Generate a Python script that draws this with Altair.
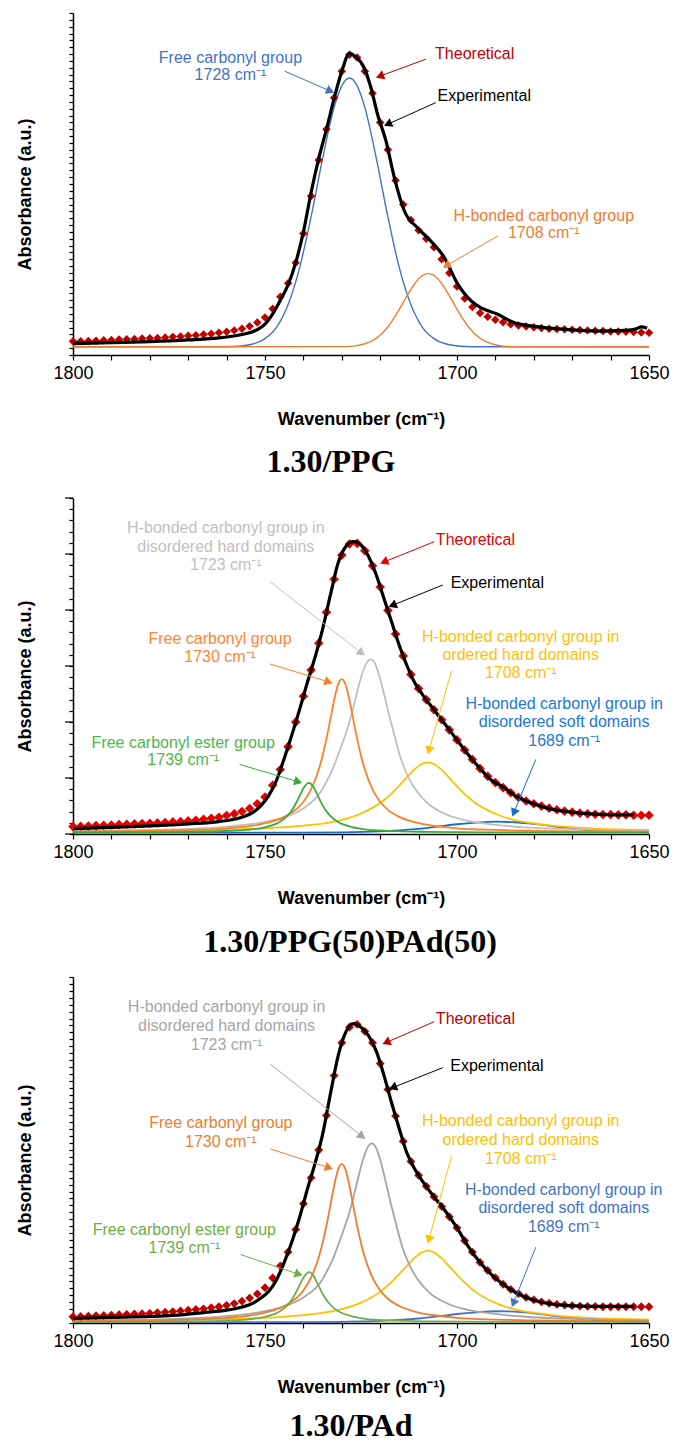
import math
import altair as alt
import pandas as pd

W = 576
HEIGHTS = [342, 336, 346]
X_TICKS = list(range(1650, 1801, 10))

# ---------------- Panel 1 : 1.30/PPG ----------------
p1_caption = "1.30/PPG"
p1_exp_wn = [1800, 1790, 1780, 1770, 1762, 1756, 1752, 1750, 1748, 1746, 1744, 1742, 1740, 1738, 1736, 1734,
             1732, 1730, 1728, 1726.5, 1724.2, 1722.5, 1720.7, 1718.5, 1716.3, 1713.7, 1710.3, 1706.8, 1703.3,
             1699.8, 1696.3, 1693.7, 1689.4, 1685, 1680.7, 1672, 1663.3, 1656, 1653.5, 1652, 1650.5]
p1_exp_val = [3.3, 3.6, 3.9, 4.4, 5.0, 6.0, 7.4, 9.0, 12.0, 16.0, 20.5, 27, 36, 47.5, 57.5, 66,
              75, 83, 88.2, 87.3, 84.0, 78.5, 70.4, 62.6, 51.8, 42.1, 37.2, 33.3, 28.5,
              20.7, 15.8, 13.8, 11.9, 9.4, 8.5, 7.5, 7.0, 7.2, 7.6, 8.2, 7.8]
p1_theo_wn = list(range(1800, 1649, -2))
p1_theo_val = [4.0, 4.0, 4.1, 4.2, 4.3, 4.4, 4.5, 4.6, 4.7, 4.8, 4.9, 5.0, 5.1, 5.3, 5.4, 5.6, 5.8, 6.0, 6.2, 6.5,
               6.8, 7.2, 7.7, 8.4, 9.5, 11.0, 13.5, 17.0, 21.0, 27.0, 35.5, 46.5, 57.0, 66.0, 75.2, 83.0, 87.8,
               87.0, 83.0, 76.5, 68.0, 60.0, 51.0, 44.0, 39.5, 36.5, 34.0, 31.5, 28.0, 24.0, 20.0, 16.5, 14.0,
               12.3, 11.2, 10.3, 9.6, 9.0, 8.6, 8.3, 8.1, 7.9, 7.7, 7.6, 7.5, 7.4, 7.3, 7.2, 7.1, 7.0, 6.9, 6.9,
               6.8, 6.7, 6.6, 6.5]
p1_blue_wn = [1800, 1762, 1758, 1754, 1750, 1747, 1744, 1741, 1738, 1735, 1732, 1730, 1728, 1726, 1724, 1721,
              1718, 1715, 1712, 1709, 1706, 1702, 1698, 1694, 1650]
p1_blue_val = [2.4, 2.4, 2.5, 3.0, 4.8, 8.1, 14.7, 25.4, 40.4, 57.4, 72.4, 78.7, 81.0, 78.7, 72.4, 57.4,
               40.4, 25.4, 14.7, 8.1, 4.8, 3.0, 2.5, 2.4, 2.4]
p1_orange_wn = [1800, 1730, 1727, 1724, 1721, 1718, 1715, 1712, 1710, 1707.5, 1705, 1703, 1700, 1697, 1694,
                1691, 1688, 1685, 1650]
p1_orange_val = [2.4, 2.45, 2.6, 3.3, 4.9, 8.2, 13.4, 19.2, 22.3, 23.8, 22.3, 19.2, 13.4, 8.2, 4.9,
                 3.3, 2.6, 2.45, 2.4]
p1_texts = [
    (1759.0, 86.8, "Free carbonyl group", "#4472C4"),
    (1759.0, 81.9, "1728 cm⁻¹", "#4472C4"),
    (1695.4, 88.1, "Theoretical", "#C00000"),
    (1692.9, 75.7, "Experimental", "#000000"),
    (1677.4, 40.6, "H-bonded carbonyl group", "#ED7D31"),
    (1677.4, 35.7, "1708 cm⁻¹", "#ED7D31"),
]
p1_arrows = [
    (1744.9, 83.0, 1732.0, 76.7, "#4472C4"),
    (1708.1, 86.5, 1721.1, 81.1, "#C00000"),
    (1705.5, 73.8, 1719.0, 67.0, "#000000"),
    (1689.4, 34.8, 1703.7, 25.5, "#ED7D31"),
]

# ---------------- Panel 2 : 1.30/PPG(50)PAd(50) ----------------
p2_caption = "1.30/PPG(50)PAd(50)"
p2_exp_wn = [1800, 1790, 1780, 1770, 1762, 1756, 1753, 1751, 1749, 1747, 1745, 1743, 1741, 1739, 1737, 1735,
             1733, 1731, 1729, 1727, 1725, 1723, 1721, 1719, 1717, 1715, 1713, 1711, 1709, 1706, 1703, 1700,
             1697, 1694, 1691, 1688, 1685, 1682, 1679, 1675, 1670, 1664, 1658, 1654]
p2_exp_val = [1.6, 2.0, 2.4, 3.0, 3.7, 5.0, 6.5, 8.5, 11.5, 16, 22.5, 29.5, 37, 45, 52.5, 61,
              71, 80.5, 85.5, 87.0, 86, 82.5, 77, 70, 63, 56, 50, 45, 41.5, 37, 32.5, 28,
              23.5, 19.5, 16, 14.0, 11.5, 9.8, 8.6, 7.3, 6.5, 5.9, 5.7, 5.7]
p2_theo_wn = list(range(1800, 1649, -2))
p2_theo_val = [2.2, 2.3, 2.4, 2.5, 2.6, 2.7, 2.8, 2.9, 3.0, 3.1, 3.2, 3.3, 3.4, 3.6, 3.7, 3.9, 4.1, 4.4, 4.7, 5.0,
               5.5, 6.0, 6.7, 7.6, 9.0, 11.0, 14.5, 19.2, 26.0, 33.3, 41.0, 48.8, 56.8, 66.0, 75.8, 83.0, 86.3,
               86.5, 84.3, 79.8, 73.5, 66.5, 59.5, 53.0, 47.5, 43.3, 40.0, 37.0, 34.0, 31.0, 28.0, 25.0, 22.2,
               19.5, 17.2, 15.3, 13.8, 12.3, 10.9, 9.8, 9.0, 8.3, 7.7, 7.2, 6.8, 6.5, 6.2, 6.0, 5.9, 5.8, 5.8,
               5.7, 5.7, 5.6, 5.6, 5.6]
p2_gray_wn = [1800, 1780, 1770, 1760, 1750, 1745, 1740, 1737.5, 1735.5, 1734.5, 1732.5, 1730.5, 1728.5, 1727.5,
              1726.5, 1725.5, 1724.5, 1723.5, 1722.5, 1721.5, 1720.5, 1719.5, 1718.5, 1717.5, 1716.5, 1714.5,
              1712.5, 1710.5, 1707.5, 1702.5, 1697.5, 1692.5, 1682.5, 1672.5, 1662.5, 1650]
p2_gray_val = [0.9, 1.2, 1.5, 2.2, 3.6, 5.0, 7.6, 9.9, 12.5, 14.5, 19.0, 25.0, 31.5, 35.5, 40.0, 44.5, 48.3,
               51.0, 52.0, 51.0, 48.1, 44.0, 39.3, 34.6, 30.2, 22.0, 16.5, 12.8, 9.0, 5.7, 4.0, 3.1, 2.0, 1.5,
               1.2, 0.95]
p2_orange_wn = [1800, 1780, 1770, 1760, 1750, 1745, 1740, 1738, 1736, 1735, 1734, 1733, 1732, 1731, 1730, 1729,
                1728, 1727, 1726, 1725, 1724, 1722, 1720, 1718, 1715, 1710, 1705, 1700, 1690, 1680, 1670, 1660,
                1650]
p2_orange_val = [0.73, 0.95, 1.2, 1.7, 3.2, 5.1, 9.6, 13.3, 19.2, 23.3, 28.3, 34.0, 39.8, 44.4, 46.1, 44.4,
                 39.8, 34.0, 28.3, 23.3, 19.2, 13.3, 9.6, 7.2, 5.1, 3.2, 2.3, 1.7, 1.2, 0.95, 0.8, 0.75, 0.7]
p2_green_wn = [1800, 1780, 1770, 1760, 1755, 1750, 1746, 1744, 1743, 1742, 1741, 1740, 1738.6, 1737.5, 1736.5,
               1735.5, 1734.5, 1733, 1731, 1728, 1724, 1718, 1708, 1690, 1670, 1650]
p2_green_val = [0.46, 0.54, 0.64, 0.9, 1.23, 2.0, 3.75, 5.6, 7.1, 9.0, 11.3, 13.6, 15.2, 14.2, 12.0,
                9.65, 7.6, 5.4, 3.6, 2.25, 1.4, 0.93, 0.65, 0.5, 0.45, 0.42]
p2_yellow_wn = [1800, 1780, 1770, 1760, 1750, 1740, 1735, 1730, 1725, 1720, 1717, 1714, 1711, 1709.5, 1707.6,
                1705.7, 1704.2, 1701.2, 1698.2, 1695.2, 1690.2, 1685.2, 1680.2, 1675.2, 1665.2, 1655.2, 1650]
p2_yellow_val = [0.8, 0.9, 1.1, 1.3, 1.7, 2.5, 3.1, 4.2, 6.1, 9.2, 12.1, 15.7, 19.3, 20.6, 21.3,
                 20.6, 19.3, 15.7, 12.1, 9.2, 6.1, 4.2, 3.2, 2.5, 1.7, 1.3, 1.2]
p2_blue_wn = [1800, 1740, 1730, 1720, 1715, 1710, 1705, 1700, 1695, 1690, 1685, 1680, 1675, 1670, 1665, 1660,
              1655, 1650]
p2_blue_val = [0.4, 0.4, 0.5, 0.8, 1.1, 1.5, 2.2, 2.9, 3.4, 3.7, 3.5, 3.0, 2.3, 1.6, 1.1, 0.8, 0.6, 0.5]
P2C = {"gray": "#BFBFBF", "orange": "#FF7F27", "green": "#3DAA3D", "yellow": "#FFC000", "blue": "#1570C8",
       "red": "#E60000"}
p2_texts = [
    (1760.2, 91.0, "H-bonded carbonyl group in", "#BFBFBF"),
    (1760.2, 85.5, "disordered hard domains", "#BFBFBF"),
    (1760.2, 80.0, "1723 cm⁻¹", "#BFBFBF"),
    (1695.2, 87.5, "Theoretical", "#E60000"),
    (1689.5, 74.6, "Experimental", "#000000"),
    (1761.7, 58.1, "Free carbonyl group", "#FF8533"),
    (1761.7, 52.8, "1730 cm⁻¹", "#FF8533"),
    (1683.4, 58.6, "H-bonded carbonyl group in", "#FFC000"),
    (1683.4, 53.4, "ordered hard domains", "#FFC000"),
    (1683.4, 47.8, "1708 cm⁻¹", "#FFC000"),
    (1672.1, 38.6, "H-bonded carbonyl group in", "#2277D4"),
    (1672.1, 33.3, "disordered soft domains", "#2277D4"),
    (1672.1, 27.8, "1689 cm⁻¹", "#2277D4"),
    (1771.3, 27.2, "Free carbonyl ester group", "#4CB84C"),
    (1771.3, 21.9, "1739 cm⁻¹", "#4CB84C"),
]
p2_arrows = [
    (1748.7, 75.1, 1724.0, 53.1, "#BFBFBF"),
    (1705.9, 87.0, 1720.0, 80.5, "#E60000"),
    (1703.7, 74.1, 1717.8, 67.6, "#000000"),
    (1748.7, 50.6, 1732.4, 44.9, "#FF7F27"),
    (1701.4, 48.6, 1707.6, 23.7, "#FFC000"),
    (1679.5, 22.2, 1685.6, 5.2, "#1570C8"),
    (1756.6, 20.7, 1740.3, 15.2, "#3DAA3D"),
]

# ---------------- Panel 3 : 1.30/PAd ----------------
p3_caption = "1.30/PAd"
p3_exp_wn = [1800, 1790, 1780, 1774, 1766, 1760, 1756, 1753, 1751, 1749, 1747, 1745, 1743, 1741, 1739, 1737,
             1735, 1733, 1731, 1729, 1727, 1725, 1723, 1721, 1719, 1717, 1715, 1713, 1711, 1709, 1706, 1703,
             1700, 1697, 1694, 1691, 1688, 1685, 1682, 1679, 1676, 1672, 1668, 1662, 1654]
p3_exp_val = [1.3, 1.6, 1.9, 2.2, 3.0, 3.7, 4.6, 5.8, 7.3, 9.2, 12.5, 17.5, 23.5, 30.5, 38.5, 46,
              54.5, 66, 77, 84, 86.5, 85.5, 83, 78.5, 71.5, 63.5, 56, 49, 44.5, 41, 36.5, 32.3,
              27.5, 22, 17.5, 14, 11.2, 9, 7.4, 6.3, 5.6, 5.1, 4.9, 4.8, 4.8]
p3_theo_wn = list(range(1800, 1649, -2))
p3_theo_val = [1.8, 1.9, 2.0, 2.1, 2.2, 2.3, 2.4, 2.5, 2.6, 2.7, 2.8, 3.0, 3.1, 3.3, 3.5, 3.7, 3.9, 4.1, 4.4, 4.7,
               5.1, 5.6, 6.3, 7.2, 8.4, 10.2, 13.0, 16.5, 20.5, 27.0, 34.5, 42.0, 50.0, 60.0, 71.5, 81.0, 85.5,
               86.3, 84.3, 81.0, 75.0, 67.5, 59.8, 52.5, 46.7, 42.7, 39.5, 36.5, 33.7, 30.7, 27.5, 23.8, 20.5,
               17.5, 15.2, 13.1, 11.2, 9.7, 8.5, 7.4, 6.7, 6.1, 5.7, 5.4, 5.2, 5.0, 4.9, 4.8, 4.8, 4.7, 4.7,
               4.7, 4.7, 4.7, 4.7, 4.7]
p3_gray_wn = [1800, 1780, 1770, 1760, 1750, 1745, 1740, 1737.2, 1735.2, 1734.2, 1732.2, 1730.2, 1728.2, 1727.2,
              1726.2, 1725.2, 1724.2, 1723.2, 1722.2, 1721.2, 1720.2, 1719.2, 1718.2, 1717.2, 1716.2, 1714.2,
              1712.2, 1710.2, 1707.2, 1702.2, 1697.2, 1692.2, 1682.2, 1672.2, 1662.2, 1650]
p3_gray_val = [0.7, 1.0, 1.3, 2.0, 3.4, 4.8, 7.4, 9.7, 12.3, 14.3, 18.8, 24.8, 31.3, 35.3, 39.8, 44.3, 48.1,
               50.9, 51.9, 50.9, 47.9, 43.8, 39.1, 34.4, 30.0, 21.8, 16.3, 12.6, 8.8, 5.5, 3.8, 2.9, 1.8, 1.3,
               1.0, 0.75]
p3_orange_wn = p2_orange_wn
p3_orange_val = [0.55, 0.75, 1.0, 1.5, 3.0, 4.9, 9.4, 13.1, 19.0, 23.1, 28.1, 33.8, 39.6, 44.2, 46.0, 44.2,
                 39.6, 33.8, 28.1, 23.1, 19.0, 13.1, 9.4, 7.0, 4.9, 3.0, 2.1, 1.5, 1.0, 0.75, 0.6, 0.55, 0.5]
p3_green_wn = [1800, 1780, 1770, 1760, 1755, 1750, 1746, 1744, 1743, 1742, 1741, 1740, 1738.5, 1737.4, 1736.4,
               1735.4, 1734.4, 1732.9, 1730.9, 1727.9, 1723.9, 1717.9, 1707.9, 1690, 1670, 1650]
p3_green_val = [0.3, 0.35, 0.45, 0.7, 1.0, 1.8, 3.5, 5.3, 6.8, 8.7, 10.9, 13.1, 14.7, 13.7, 11.6,
                9.3, 7.3, 5.2, 3.4, 2.1, 1.2, 0.75, 0.45, 0.3, 0.3, 0.3]
p3_yellow_wn = p2_yellow_wn
p3_yellow_val = [0.6, 0.7, 0.9, 1.1, 1.5, 2.3, 2.9, 4.0, 5.9, 9.0, 11.9, 15.4, 18.9, 20.2, 20.9,
                 20.2, 18.9, 15.4, 11.9, 9.0, 5.9, 4.0, 3.0, 2.3, 1.5, 1.1, 1.0]
p3_blue_wn = p2_blue_wn
p3_blue_val = [0.25, 0.25, 0.35, 0.6, 0.9, 1.3, 1.9, 2.6, 3.1, 3.4, 3.3, 2.8, 2.1, 1.4, 0.9, 0.6, 0.4, 0.35]
P3C = {"gray": "#A5A5A5", "orange": "#ED7D31", "green": "#70AD47", "yellow": "#FFC000", "blue": "#4472C4",
       "red": "#C00000"}
p3_texts = [
    (1760.0, 91.3, "H-bonded carbonyl group in", "#A6A6A6"),
    (1760.0, 85.8, "disordered hard domains", "#A6A6A6"),
    (1760.0, 80.4, "1723 cm⁻¹", "#A6A6A6"),
    (1695.2, 87.8, "Theoretical", "#C00000"),
    (1689.6, 74.3, "Experimental", "#000000"),
    (1761.5, 57.7, "Free carbonyl group", "#ED7D31"),
    (1761.5, 52.4, "1730 cm⁻¹", "#ED7D31"),
    (1683.4, 58.3, "H-bonded carbonyl group in", "#FFC000"),
    (1683.4, 52.9, "ordered hard domains", "#FFC000"),
    (1683.4, 47.4, "1708 cm⁻¹", "#FFC000"),
    (1672.2, 38.5, "H-bonded carbonyl group in", "#4472C4"),
    (1672.2, 33.2, "disordered soft domains", "#4472C4"),
    (1672.2, 27.7, "1689 cm⁻¹", "#4472C4"),
    (1771.0, 27.0, "Free carbonyl ester group", "#70AD47"),
    (1771.0, 21.7, "1739 cm⁻¹", "#70AD47"),
]
p3_arrows = [
    (1748.6, 74.8, 1723.9, 53.2, "#A5A5A5"),
    (1705.9, 87.1, 1719.4, 80.6, "#C00000"),
    (1703.7, 73.8, 1717.7, 67.6, "#000000"),
    (1748.6, 50.3, 1732.3, 44.5, "#ED7D31"),
    (1701.4, 48.3, 1707.6, 22.9, "#FFC000"),
    (1679.5, 21.9, 1685.7, 4.6, "#4472C4"),
    (1756.4, 19.8, 1740.2, 13.7, "#70AD47"),
]

HEAD_SIZE = 90
HEAD_BACK = 0.866 * math.sqrt(HEAD_SIZE) / 2


def arrow_frames(arrows, H):
    lines, heads = [], []
    for (w1, v1, w2, v2, col) in arrows:
        dx = -(w2 - w1) * W / 150.0
        dy = -(v2 - v1) * H / 100.0
        L = math.hypot(dx, dy)
        ang = math.degrees(math.atan2(dx, -dy)) % 360
        hw = w2 + (HEAD_BACK * dx / L) * 150.0 / W
        hv = v2 + (HEAD_BACK * dy / L) * 100.0 / H
        lines.append({"wn": w1, "v": v1, "wn2": hw, "v2": hv, "color": col})
        heads.append({"wn": hw, "v": hv, "ang": ang, "color": col})
    return pd.DataFrame(lines), pd.DataFrame(heads)


def make_panel(H, comps, theo, exp, texts, arrows, marker_color, caption, cap_dx, cap_offset, n_minor,
               major_every=None, comp_width=1.6, marker_size=78):
    xsc = alt.Scale(domain=[1650, 1800], reverse=True, nice=False, zero=False)
    ysc = alt.Scale(domain=[0, 100], nice=False, zero=False)
    xax = alt.Axis(values=X_TICKS, labelExpr="datum.value % 50 == 0 ? datum.value : ''",
                   tickSize=5, tickWidth=1.2, labelPadding=4, labelFontSize=18, labelColor="black",
                   labelFlush=False, labelOverlap=False, domainColor="black", domainWidth=1.5,
                   tickColor="black", grid=False, title="Wavenumber (cm⁻¹)", titleFontSize=18,
                   titleFontWeight="bold", titleColor="black", titlePadding=28)
    yvals = [100.0 * i / n_minor for i in range(n_minor + 1)]
    yax = alt.Axis(values=yvals, labels=False, tickSize=4, tickWidth=1.2, domainColor="black",
                   domainWidth=1.5, tickColor="black", grid=False, title="Absorbance (a.u.)",
                   titleFontSize=18, titleFontWeight="bold", titleColor="black", titlePadding=34,
                   titleY=H / 2 + 10)
    X = alt.X("wn:Q", scale=xsc, axis=xax)
    Y = alt.Y("v:Q", scale=ysc, axis=yax)

    rows = []
    for (name, wn, val, col) in comps:
        for a, b in zip(wn, val):
            rows.append({"wn": a, "v": b, "series": name, "color": col})
    comp_df = pd.DataFrame(rows)
    comp_layer = alt.Chart(comp_df).mark_line(strokeWidth=comp_width, interpolate="monotone").encode(
        x=X, y=Y, detail="series:N", color=alt.Color("color:N", scale=None),
        order=alt.Order("wn:Q"))

    theo_df = pd.DataFrame({"wn": theo[0], "v": theo[1]})
    theo_layer = alt.Chart(theo_df).mark_point(shape="diamond", filled=True, size=marker_size, opacity=1,
                                               color=marker_color).encode(x=X, y=Y)
    exp_df = pd.DataFrame({"wn": exp[0], "v": exp[1]})
    exp_layer = alt.Chart(exp_df).mark_line(color="black", strokeWidth=3.2, interpolate="monotone").encode(
        x=X, y=Y, order=alt.Order("wn:Q"))

    line_df, head_df = arrow_frames(arrows, H)
    arrow_layer = alt.Chart(line_df).mark_rule(strokeWidth=1).encode(
        x=X, y=Y, x2="wn2:Q", y2="v2:Q", color=alt.Color("color:N", scale=None))
    head_layer = alt.Chart(head_df).mark_point(shape="triangle-up", filled=True, size=HEAD_SIZE,
                                               opacity=1).encode(
        x=X, y=Y, angle=alt.Angle("ang:Q", scale=None), color=alt.Color("color:N", scale=None))

    text_df = pd.DataFrame(texts, columns=["wn", "v", "text", "color"])
    text_layer = alt.Chart(text_df).mark_text(fontSize=16, align="center", baseline="middle").encode(
        x=X, y=Y, text="text:N", color=alt.Color("color:N", scale=None))

    layers = [comp_layer, theo_layer, exp_layer, arrow_layer, head_layer, text_layer]
    if major_every:
        maj_df = pd.DataFrame({"v": [yvals[i] for i in range(0, n_minor + 1, major_every)]})
        layers.append(alt.Chart(maj_df).mark_rule(color="black", strokeWidth=1.2).encode(
            x=alt.value(-8), x2=alt.value(0), y=Y))

    return alt.layer(*layers).properties(
        width=W, height=H,
        title=alt.TitleParams(caption, orient="bottom", anchor="middle", frame="group",
                              font="Liberation Serif", fontSize=32, fontWeight="bold", color="black",
                              offset=cap_offset, dx=cap_dx))


p1 = make_panel(HEIGHTS[0],
                [("free", p1_blue_wn, p1_blue_val, "#4472C4"),
                 ("hbond", p1_orange_wn, p1_orange_val, "#ED7D31")],
                (p1_theo_wn, p1_theo_val), (p1_exp_wn, p1_exp_val), p1_texts, p1_arrows,
                "#C00000", p1_caption, -30, 19, 50, comp_width=1.4, marker_size=72)
p2 = make_panel(HEIGHTS[1],
                [("a_blue", p2_blue_wn, p2_blue_val, P2C["blue"]),
                 ("b_yellow", p2_yellow_wn, p2_yellow_val, P2C["yellow"]),
                 ("c_gray", p2_gray_wn, p2_gray_val, P2C["gray"]),
                 ("d_orange", p2_orange_wn, p2_orange_val, P2C["orange"]),
                 ("e_green", p2_green_wn, p2_green_val, P2C["green"])],
                (p2_theo_wn, p2_theo_val), (p2_exp_wn, p2_exp_val), p2_texts, p2_arrows,
                P2C["red"], p2_caption, -11, 20, 30, major_every=5, comp_width=1.8, marker_size=92)
p3 = make_panel(HEIGHTS[2],
                [("a_blue", p3_blue_wn, p3_blue_val, P3C["blue"]),
                 ("b_yellow", p3_yellow_wn, p3_yellow_val, P3C["yellow"]),
                 ("c_gray", p3_gray_wn, p3_gray_val, P3C["gray"]),
                 ("d_orange", p3_orange_wn, p3_orange_val, P3C["orange"]),
                 ("e_green", p3_green_wn, p3_green_val, P3C["green"])],
                (p3_theo_wn, p3_theo_val), (p3_exp_wn, p3_exp_val), p3_texts, p3_arrows,
                P3C["red"], p3_caption, -10, 15, 50, comp_width=1.8, marker_size=78)

chart = alt.vconcat(p1, p2, p3, spacing=143, bounds="flush").configure(
    padding={"left": 16, "top": 12, "right": 0, "bottom": 0},
    background="white",
).configure_view(stroke=None).configure_axis(
    labelFont="Liberation Sans", titleFont="Liberation Sans"
).configure_text(font="Liberation Sans")

chart.save("out.html", embed_options={"renderer": "svg", "actions": False})
